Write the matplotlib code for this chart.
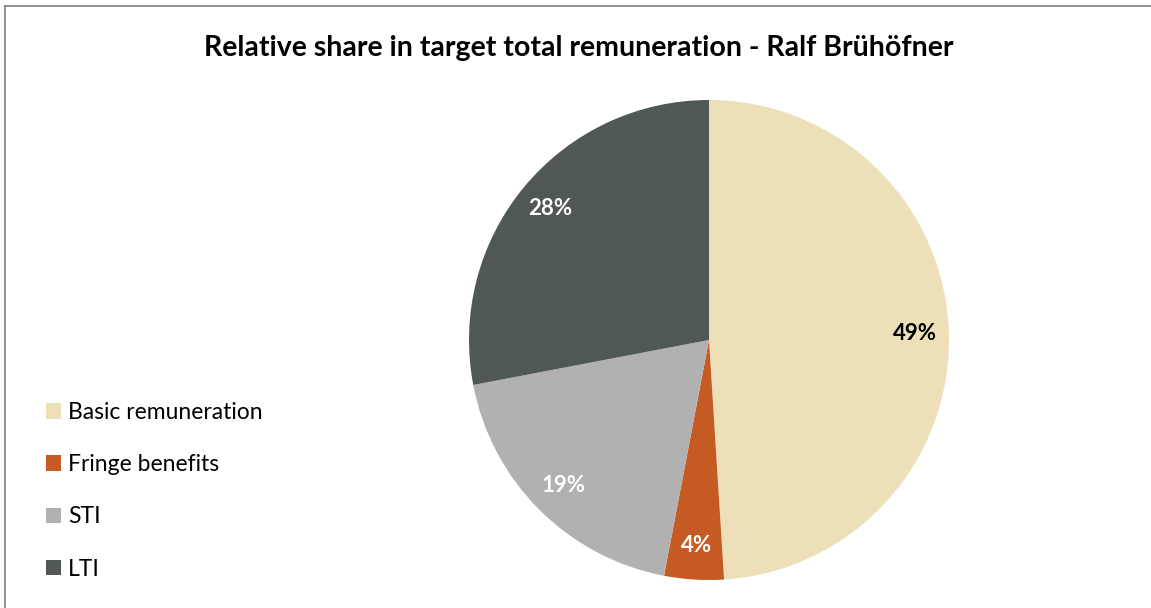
import matplotlib.pyplot as plt
from matplotlib.lines import Line2D

labels = ["Basic remuneration", "Fringe benefits", "STI", "LTI"]
shares = [49, 4, 19, 28]
colors = ["#ede0b8", "#c55a22", "#b1b1b1", "#505757"]
pct_colors = ["black", "white", "white", "white"]

plt.rcParams['font.family'] = ['Lato', 'DejaVu Sans']

fig = plt.figure(figsize=(11.51, 6.08), dpi=100)

# pie centred at about (709, 340) px, radius 240 px
W, H = 1151, 608
ax = fig.add_axes([(709 - 240) / W, (H - 340 - 240) / H, 480 / W, 480 / H])
wedges, texts, autotexts = ax.pie(shares, colors=colors, startangle=90, counterclock=False,
                                  autopct='%d%%', pctdistance=0.86, radius=1.0,
                                  wedgeprops=dict(linewidth=0))
for t, c in zip(autotexts, pct_colors):
    t.set_color(c)
    t.set_fontsize(16)
    t.set_fontweight('bold')
ax.set_xlim(-1, 1)
ax.set_ylim(-1, 1)
ax.set_aspect('equal')

fig.text(579 / W, 1 - 48 / H, "Relative share in target total remuneration - Ralf Brühöfner",
         ha='center', va='center', fontsize=20.5, fontweight='bold')

leg = fig.legend(wedges, labels, loc='upper left', bbox_to_anchor=(46 / W, 1 - 402 / H),
                 frameon=False, fontsize=16.5, handlelength=0.65, handleheight=0.65,
                 handletextpad=0.3, labelspacing=1.36, borderpad=0, borderaxespad=0)

# thin frame on left and top
fig.add_artist(Line2D([5 / W, 5 / W], [0, 1 - 6 / H], color='#7f7f7f', lw=1.2))
fig.add_artist(Line2D([5 / W, 1], [1 - 6 / H, 1 - 6 / H], color='#7f7f7f', lw=1.2))

fig.savefig("out.png", dpi=100)
